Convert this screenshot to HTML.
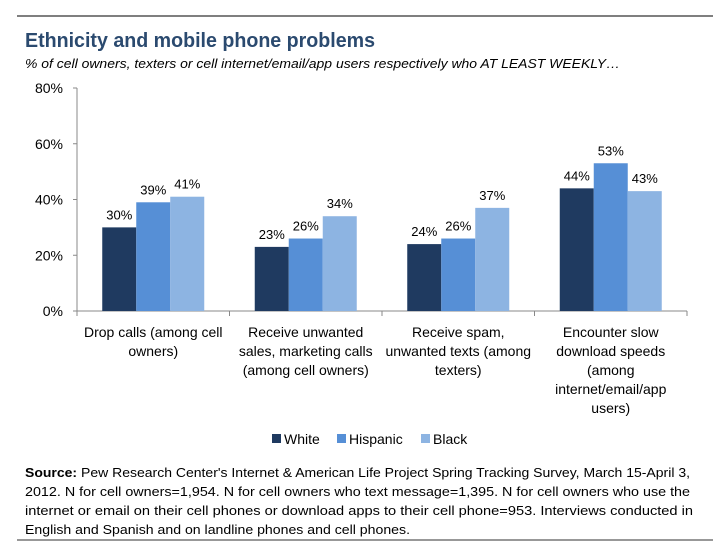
<!DOCTYPE html>
<html><head><meta charset="utf-8"><style>
body{margin:0;background:#fff;width:722px;height:555px;overflow:hidden;font-family:"Liberation Sans",sans-serif}
</style></head><body>
<svg width="722" height="555" id="chart" style="font-family:'Liberation Sans',sans-serif">
<line x1="17" y1="16" x2="713" y2="16" stroke="#555" stroke-width="1.5"/>
<text x="25" y="47" font-size="20" font-weight="bold" fill="#2b4a6f" textLength="350" lengthAdjust="spacingAndGlyphs">Ethnicity and mobile phone problems</text>
<text x="25" y="68" font-size="13" font-style="italic" fill="#000" textLength="595" lengthAdjust="spacingAndGlyphs">% of cell owners, texters or cell internet/email/app users respectively who AT LEAST WEEKLY…</text>
<g id="plot"></g>
<line x1="17" y1="540" x2="713" y2="540" stroke="#777" stroke-width="1.5"/>
<g font-size="13" fill="#000">
<text x="25" y="477" textLength="665" lengthAdjust="spacingAndGlyphs"><tspan font-weight="bold">Source:</tspan> Pew Research Center's Internet &amp; American Life Project Spring Tracking Survey, March 15-April 3,</text>
<text x="25" y="496" textLength="665" lengthAdjust="spacingAndGlyphs">2012. N for cell owners=1,954. N for cell owners who text message=1,395. N for cell owners who use the</text>
<text x="25" y="515" textLength="668" lengthAdjust="spacingAndGlyphs">internet or email on their cell phones or download apps to their cell phone=953. Interviews conducted in</text>
<text x="25" y="534" textLength="385" lengthAdjust="spacingAndGlyphs">English and Spanish and on landline phones and cell phones.</text>
</g>
</svg>
<script>
const categories=[["Drop calls (among cell","owners)"],["Receive unwanted","sales, marketing calls","(among cell owners)"],["Receive spam,","unwanted texts (among","texters)"],["Encounter slow","download speeds","(among","internet/email/app","users)"]];
const seriesNames=["White","Hispanic","Black"];
const white=[30,23,24,44];
const hispanic=[39,26,26,53];
const black=[41,34,37,43];
const yTicks=[0,20,40,60,80];
const colors=["#1f3a60","#568fd6","#8db4e2"];
const NS="http://www.w3.org/2000/svg";
const g=document.getElementById("plot");
const x0=77,x1=687,y0=311,y1=88;
const y=v=>y0-(v/80)*(y0-y1);
const bw=(x1-x0)/categories.length;
function el(t,a,txt){const e=document.createElementNS(NS,t);for(const k in a)e.setAttribute(k,a[k]);if(txt!=null)e.textContent=txt;g.appendChild(e);return e;}
let e=el("line",{x1:x0,y1:y0,x2:x0,y2:y1,stroke:"#888"});


e=el("line",{x1:x0,y1:y0,x2:x1,y2:y0,stroke:"#888"});


yTicks.forEach(t=>{
 const l=el("line",{x1:x0-4,y1:y(t),x2:x0,y2:y(t),stroke:"#888"});
 
 
 const tx=el("text",{x:x0-14,y:y(t)+5,"font-size":"14","text-anchor":"end"},t+"%");
 
 
});
for(let i=0;i<=categories.length;i++){
 const l=el("line",{x1:x0+i*bw,y1:y0,x2:x0+i*bw,y2:y0+5,stroke:"#888"});
 
 
}
const series=[white,hispanic,black];
const barW=34;
categories.forEach((c,i)=>{
 const start=x0+i*bw+(bw-3*barW)/2;
 series.forEach((s,j)=>{
  const bx=start+j*barW;
  const r=el("rect",{x:bx,y:y(s[i]),width:barW,height:y0-y(s[i]),fill:colors[j]});
  
  
  const t=el("text",{x:bx+barW/2,y:y(s[i])-8,"font-size":"13","text-anchor":"middle"},s[i]+"%");
  
  
 });
 c.forEach((line,k)=>{
  const t=el("text",{x:x0+i*bw+bw/2,y:337+k*19,"font-size":"14","text-anchor":"middle"},line);
  
  
 });
});
const lx=[272,337,421];
seriesNames.forEach((n,j)=>{
 const r=el("rect",{x:lx[j],y:434,width:9,height:9,fill:colors[j]});
 
 
 const t=el("text",{x:lx[j]+12,y:444,"font-size":"14"},n);
 
 
});
</script>
</body></html>
